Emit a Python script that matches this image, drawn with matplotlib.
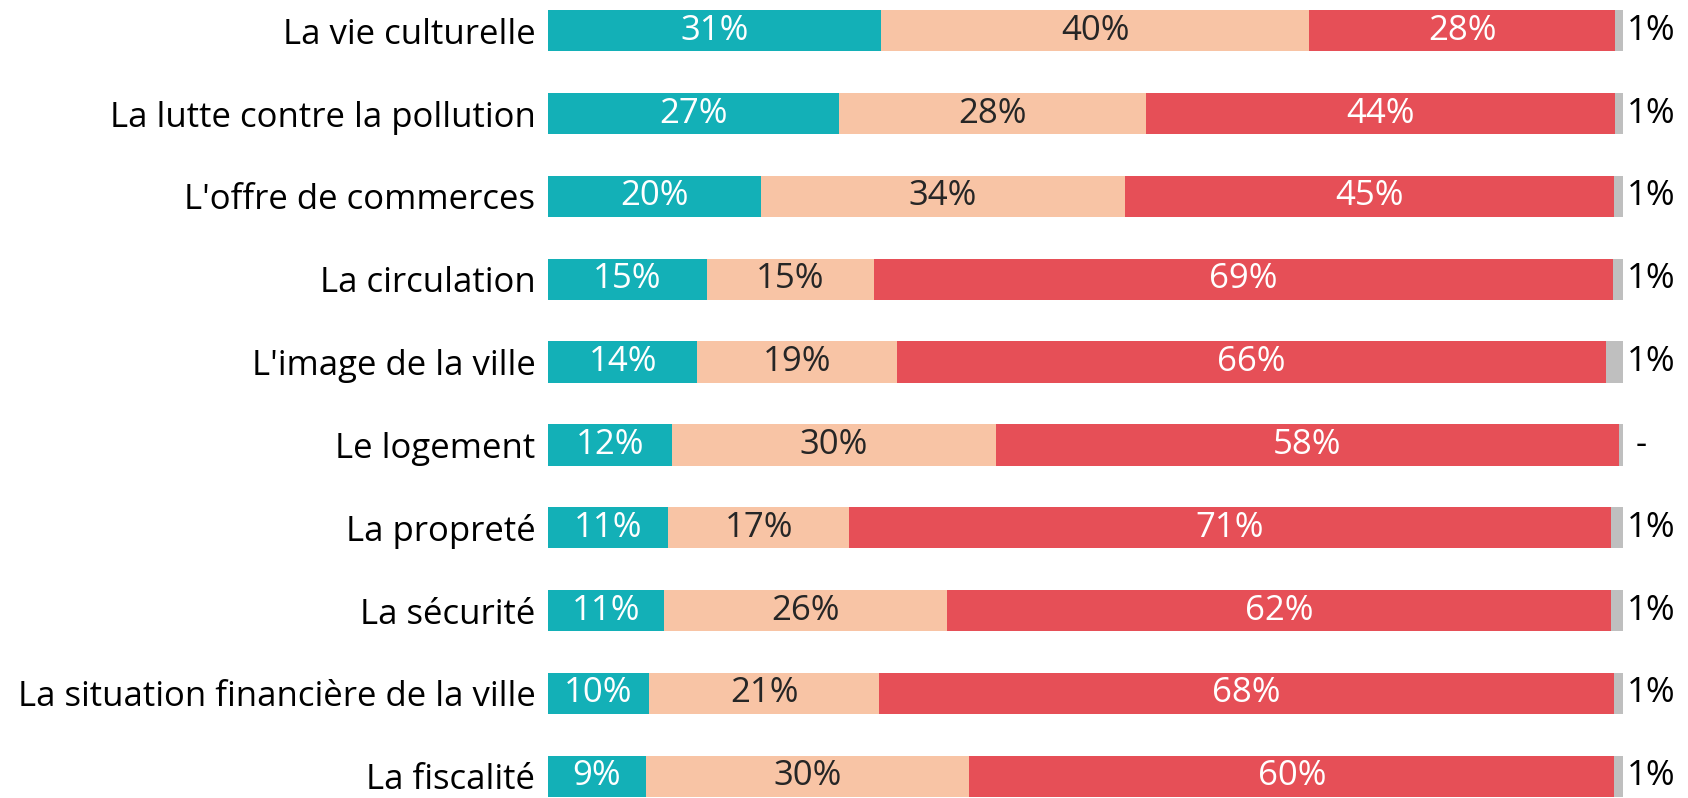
import matplotlib
matplotlib.use("Agg")
import matplotlib.pyplot as plt
import numpy as np

plt.rcParams.update({
    "font.family": ["Open Sans", "DejaVu Sans"],
})

categories = [
    "La vie culturelle",
    "La lutte contre la pollution",
    "L'offre de commerces",
    "La circulation",
    "L'image de la ville",
    "Le logement",
    "La propreté",
    "La sécurité",
    "La situation financière de la ville",
    "La fiscalité",
]
# segment widths (%)
satisfied = [31.0, 27.1, 19.8, 14.8, 13.9, 11.5, 11.2, 10.8, 9.4, 9.1]
neutral = [39.8, 28.5, 33.9, 15.5, 18.6, 30.2, 16.8, 26.3, 21.4, 30.1]
unsatisfied = [28.5, 43.7, 45.5, 68.8, 65.9, 57.9, 70.9, 61.8, 68.4, 60.0]
no_answer = [0.7, 0.7, 0.8, 0.9, 1.6, 0.4, 1.1, 1.1, 0.8, 0.8]
# printed labels
lab_sat = ["31%", "27%", "20%", "15%", "14%", "12%", "11%", "11%", "10%", "9%"]
lab_neu = ["40%", "28%", "34%", "15%", "19%", "30%", "17%", "26%", "21%", "30%"]
lab_uns = ["28%", "44%", "45%", "69%", "66%", "58%", "71%", "62%", "68%", "60%"]
lab_na = ["1%", "1%", "1%", "1%", "1%", "-", "1%", "1%", "1%", "1%"]

C_SAT = "#13B0B7"
C_NEU = "#F8C4A5"
C_UNS = "#E64F57"
C_NA = "#BFBFBF"

W, H = 1688, 798
fig = plt.figure(figsize=(W / 100, H / 100), dpi=100)
ax = fig.add_axes([548 / W, 1 / H, 1075 / W, 787 / H])

y = np.arange(len(categories))
h = 0.5
sat = np.array(satisfied)
neu = np.array(neutral)
uns = np.array(unsatisfied)
na = np.array(no_answer)

ax.barh(y, sat, height=h, color=C_SAT, lw=0)
ax.barh(y, neu, left=sat, height=h, color=C_NEU, lw=0)
ax.barh(y, uns, left=sat + neu, height=h, color=C_UNS, lw=0)
ax.barh(y, na, left=sat + neu + uns, height=h, color=C_NA, lw=0)

fs = 25
for i in range(len(categories)):
    ax.text(sat[i] / 2, y[i], lab_sat[i], ha="center", va="center",
            color="white", fontsize=fs)
    ax.text(sat[i] + neu[i] / 2, y[i], lab_neu[i], ha="center", va="center",
            color="#262626", fontsize=fs)
    ax.text(sat[i] + neu[i] + uns[i] / 2, y[i], lab_uns[i], ha="center",
            va="center", color="white", fontsize=fs)
    end = sat[i] + neu[i] + uns[i] + na[i]
    off = 1.2 if lab_na[i] == "-" else 0.4
    ax.text(end + off, y[i], lab_na[i], ha="left", va="center",
            color="black", fontsize=fs)

ax.set_xlim(0, 100)
ax.set_ylim(len(categories) - 1 + h / 2, -h / 2)
ax.set_yticks(y)
ax.set_yticklabels(categories, fontsize=fs, color="black")
ax.tick_params(axis="y", length=0, pad=9)
ax.set_xticks([])
for s in ax.spines.values():
    s.set_visible(False)

fig.savefig("out.png", dpi=100)
